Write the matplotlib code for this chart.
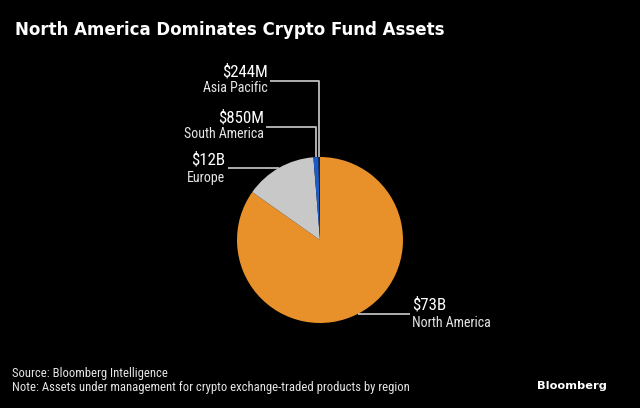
import numpy as np
import matplotlib.pyplot as plt

regions = ["North America", "Europe", "South America", "Asia Pacific"]
assets_bn = [73, 12, 0.85, 0.244]
value_labels = ["$73B", "$12B", "$850M", "$244M"]
colors = ["#e8912a", "#c8c8c8", "#1f5bc6", "#16254f"]

W, H = 640, 408
narrow = ["Roboto Condensed", "DejaVu Sans"]

fig = plt.figure(figsize=(W / 100, H / 100), dpi=100, facecolor="black")
ax = fig.add_axes([0, 0, 1, 1])
ax.set_facecolor("black")

cx, cy, r = 320, H - 240, 83
wedges, _ = ax.pie(assets_bn, colors=colors, startangle=90, counterclock=False,
                   center=(cx, cy), radius=r, frame=True,
                   wedgeprops=dict(linewidth=0))
ax.set_xlim(0, W)
ax.set_ylim(0, H)
ax.set_aspect("equal")
ax.axis("off")


def img(y):
    return H - y


def mid_angle(w):
    return np.deg2rad((w.theta1 + w.theta2) / 2)


line_kw = dict(color="#bdbdbd", lw=1.3, solid_capstyle="butt")
val_kw = dict(color="white", fontsize=12.2, family=narrow, va="center")
sub_kw = dict(color="#e6e6e6", fontsize=10, family=narrow, va="center")

# Asia Pacific and South America: elbow lines down to the top of the pie
for idx, ly, tx in [(3, 80.5, 268), (2, 126.5, 264)]:
    a = mid_angle(wedges[idx])
    px, py = cx + r * np.cos(a), cy + r * np.sin(a)
    ax.plot([tx + 2, px, px], [img(ly), img(ly), py], **line_kw)
    ax.text(tx, img(ly - 9), value_labels[idx], ha="right", **val_kw)
    ax.text(tx, img(ly + 8), regions[idx], ha="right", **sub_kw)

# Europe
ly = 168
dx = np.sqrt(r ** 2 - (img(ly) - cy) ** 2)
ax.plot([228, cx - dx], [img(ly), img(ly)], **line_kw)
ax.text(225, img(ly - 8), value_labels[1], ha="right", **val_kw)
ax.text(225, img(ly + 10), regions[1], ha="right", **sub_kw)

# North America
ly = 314
dx = np.sqrt(r ** 2 - (img(ly) - cy) ** 2)
ax.plot([cx + dx, 410], [img(ly), img(ly)], **line_kw)
ax.text(412, img(ly - 9), value_labels[0], ha="left", **val_kw)
ax.text(412, img(ly + 9), regions[0], ha="left", **sub_kw)

ax.text(15, img(30), "North America Dominates Crypto Fund Assets", color="white",
        fontsize=11.95, fontweight="bold", va="center", ha="left")
ax.text(12, img(373), "Source: Bloomberg Intelligence", color="#e6e6e6",
        fontsize=9.1, family=narrow, va="center")
ax.text(12, img(388), "Note: Assets under management for crypto exchange-traded products by region",
        color="#e6e6e6", fontsize=9.1, family=narrow, va="center")
ax.text(607, img(386), "Bloomberg", color="white", fontsize=8.2, fontweight="bold",
        ha="right", va="center")

fig.savefig("out.png", dpi=100, facecolor="black")
